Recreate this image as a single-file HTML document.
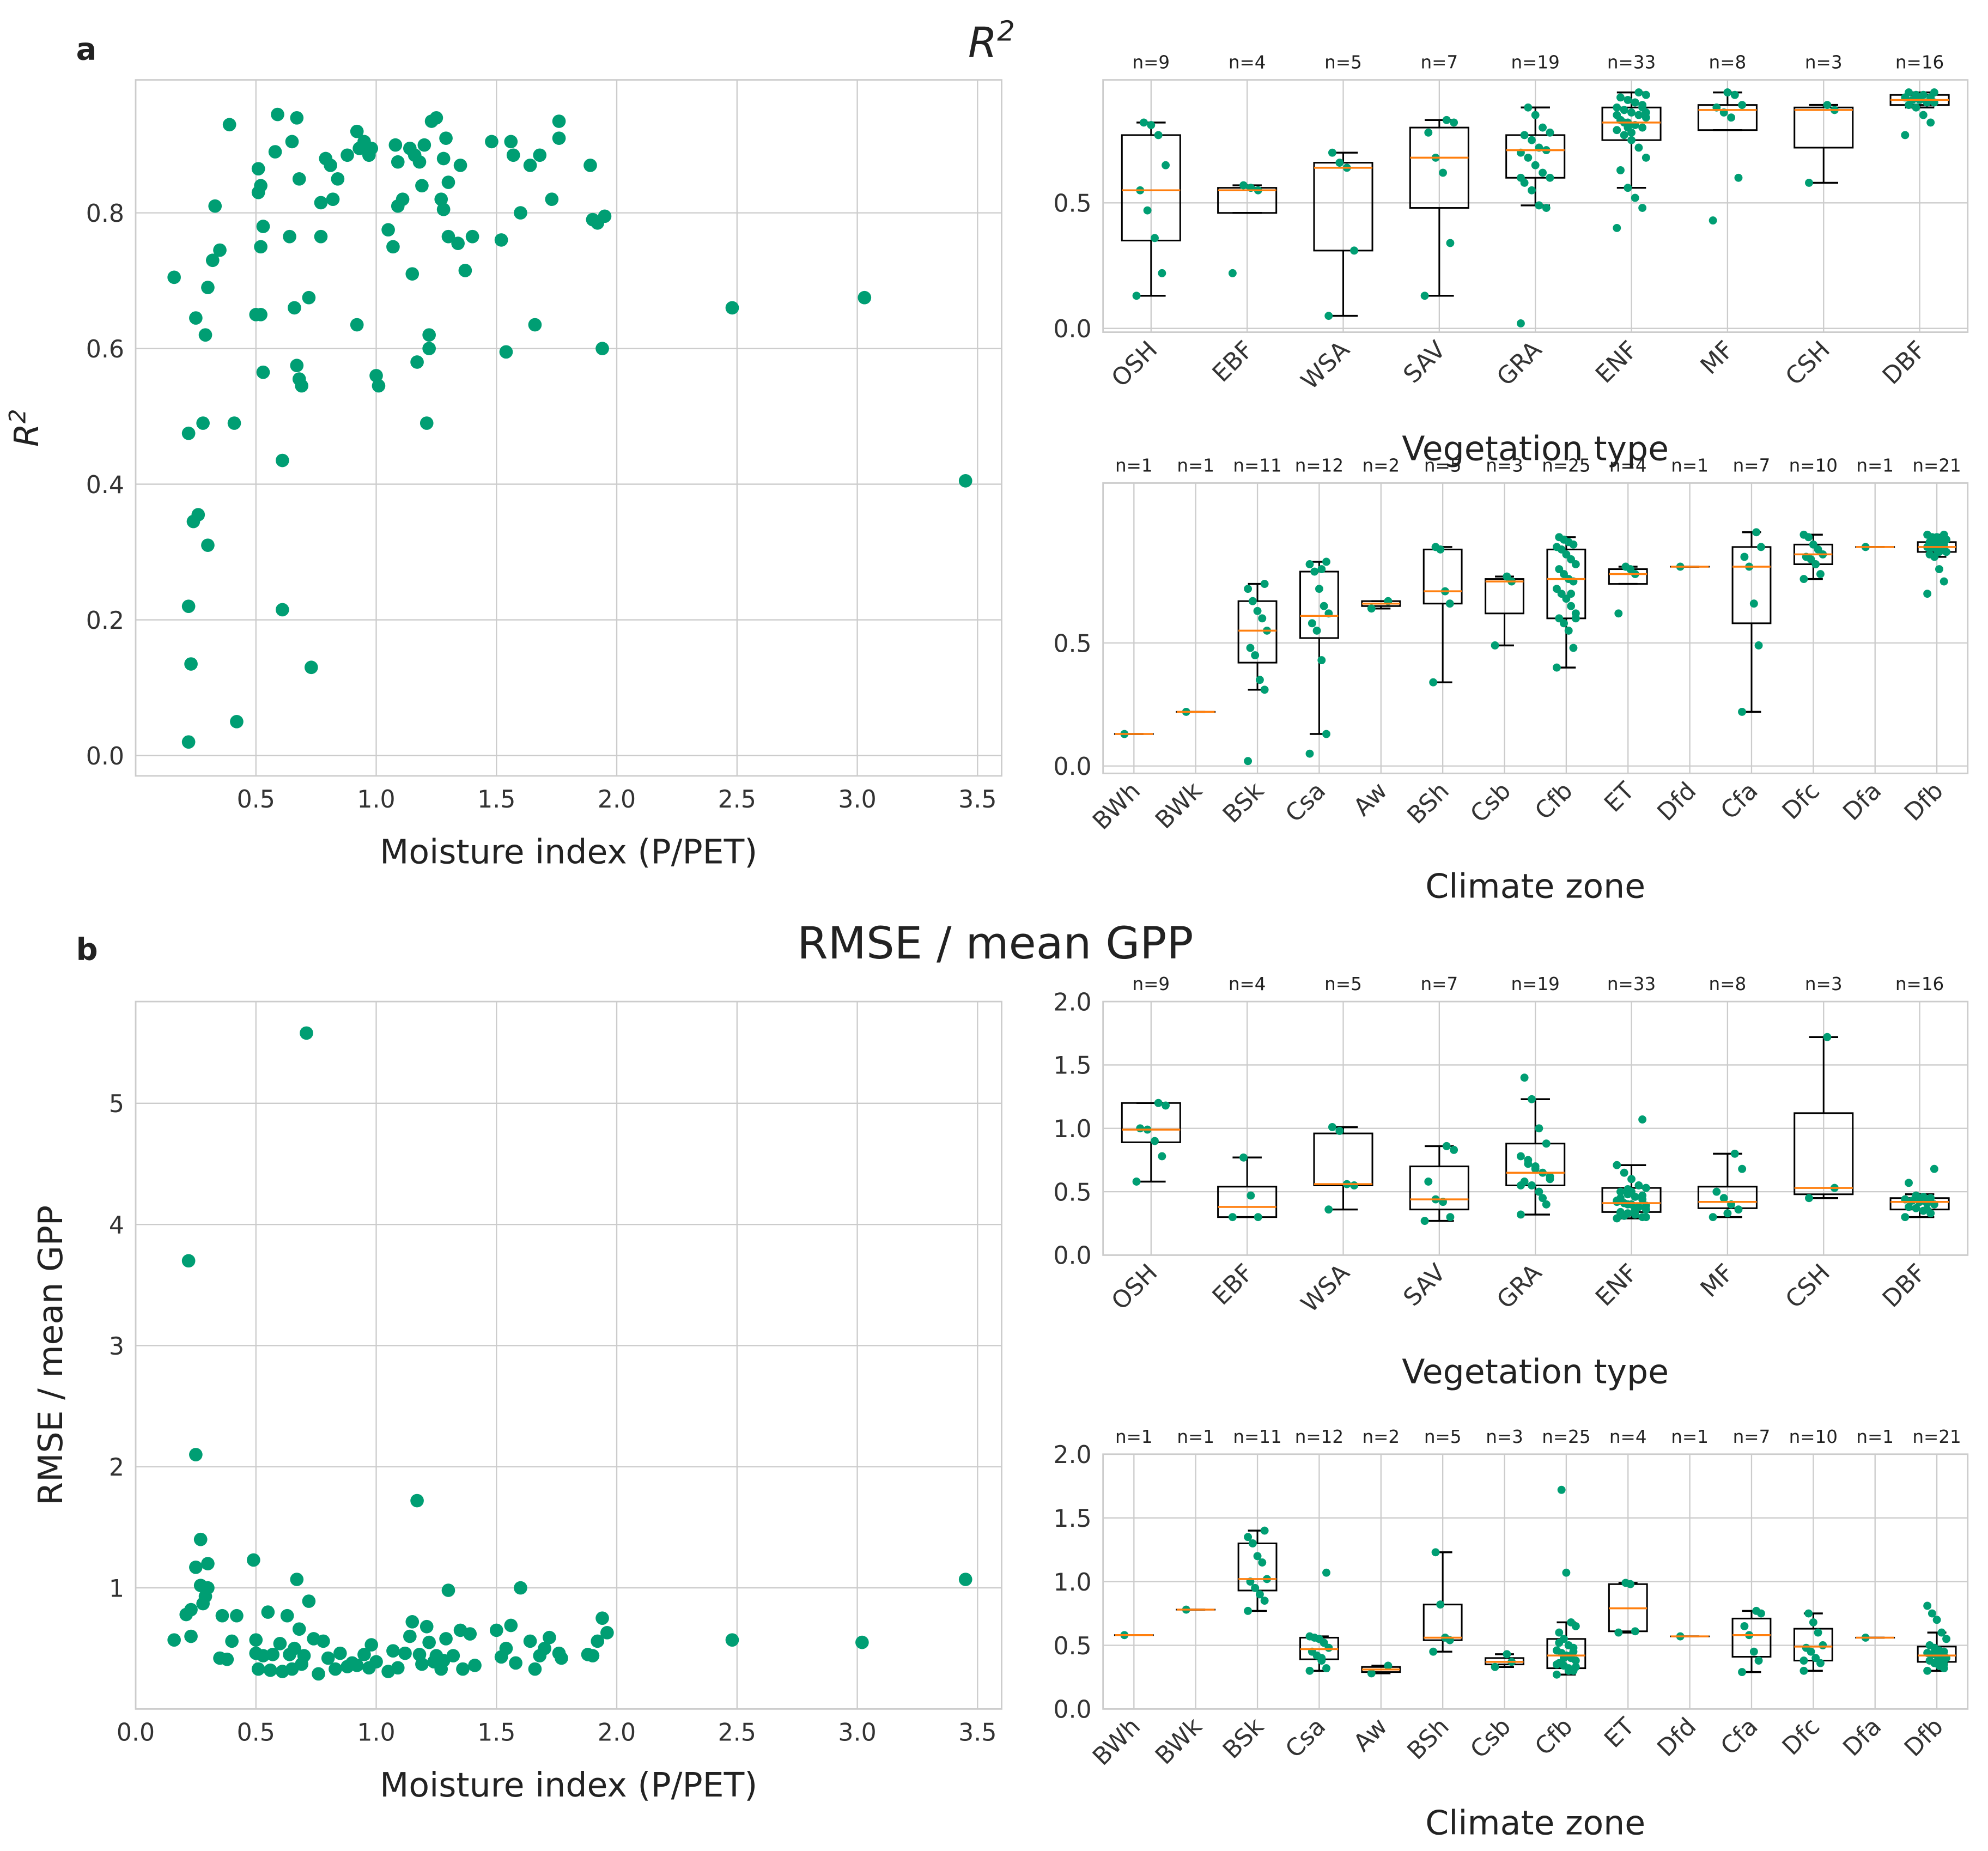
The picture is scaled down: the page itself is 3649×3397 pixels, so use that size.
<!DOCTYPE html>
<html><head><meta charset="utf-8">
<style>
html,body{margin:0;padding:0;background:#fff;}
svg{display:block;font-family:"DejaVu Sans","Liberation Sans",sans-serif;}
</style></head>
<body>
<svg id="fig" width="3649" height="3397" viewBox="0 0 1568 1460" preserveAspectRatio="none" xmlns="http://www.w3.org/2000/svg">
<rect x="0" y="0" width="1568" height="1460" fill="#fff"/>
<text x="60" y="47" font-size="24" font-weight="bold" fill="#222">a</text>
<text x="60" y="757" font-size="24" font-weight="bold" fill="#222">b</text>
<text x="782" y="45" font-size="33" font-style="italic" fill="#222" text-anchor="middle">R<tspan dy="-13" font-size="22">2</tspan></text>
<text x="785" y="756" font-size="35" fill="#222" text-anchor="middle">RMSE / mean GPP</text>
<g id="root"></g>
</svg>
<script>
// ---------- DATA ----------
const scatterR2X = [0.16,0.22,0.22,0.23,0.22,0.24,0.26,0.25,0.28,0.29,0.30,0.30,0.32,0.33,0.35,0.39,0.41,0.42,0.50,0.51,0.51,0.52,0.52,0.53,0.53,0.52,0.58,0.59,0.61,0.61,0.64,0.65,0.66,0.67,0.67,0.68,0.68,0.69,0.72,0.73,0.77,0.77,0.79,0.81,0.82,0.84,0.88,0.92,0.92,0.93,0.95,0.97,0.98,1.00,1.01,1.05,1.07,1.08,1.09,1.09,1.11,1.14,1.15,1.16,1.17,1.18,1.19,1.20,1.21,1.22,1.22,1.23,1.25,1.27,1.28,1.28,1.29,1.30,1.30,1.34,1.35,1.37,1.40,1.48,1.52,1.54,1.56,1.57,1.60,1.64,1.66,1.68,1.73,1.76,1.76,1.89,1.90,1.92,1.94,1.95,2.48,3.03,3.45];
const scatterR2Y = [0.705,0.475,0.22,0.135,0.02,0.345,0.355,0.645,0.49,0.62,0.31,0.69,0.73,0.81,0.745,0.93,0.49,0.05,0.65,0.865,0.83,0.84,0.75,0.78,0.565,0.65,0.89,0.945,0.435,0.215,0.765,0.905,0.66,0.94,0.575,0.555,0.85,0.545,0.675,0.13,0.765,0.815,0.88,0.87,0.82,0.85,0.885,0.635,0.92,0.895,0.905,0.885,0.895,0.56,0.545,0.775,0.75,0.9,0.81,0.875,0.82,0.895,0.71,0.885,0.58,0.875,0.84,0.9,0.49,0.6,0.62,0.935,0.94,0.82,0.88,0.805,0.91,0.765,0.845,0.755,0.87,0.715,0.765,0.905,0.76,0.595,0.905,0.885,0.80,0.87,0.635,0.885,0.82,0.935,0.91,0.87,0.79,0.785,0.60,0.795,0.66,0.675,0.405];
const scatterRmX = [0.16,0.21,0.22,0.23,0.23,0.25,0.25,0.27,0.27,0.28,0.29,0.30,0.30,0.35,0.36,0.38,0.40,0.42,0.49,0.50,0.50,0.51,0.53,0.55,0.56,0.57,0.60,0.61,0.63,0.64,0.65,0.66,0.67,0.68,0.69,0.70,0.71,0.72,0.74,0.76,0.78,0.80,0.83,0.85,0.88,0.90,0.92,0.95,0.97,0.98,1.00,1.05,1.07,1.09,1.12,1.14,1.15,1.17,1.18,1.19,1.21,1.22,1.24,1.25,1.27,1.28,1.29,1.30,1.32,1.35,1.36,1.39,1.41,1.50,1.52,1.54,1.56,1.58,1.60,1.64,1.66,1.68,1.70,1.72,1.76,1.77,1.88,1.90,1.92,1.94,1.96,2.48,3.02,3.45];
const scatterRmY = [0.57,0.78,3.7,0.82,0.6,2.1,1.17,1.4,1.02,0.87,0.93,1.2,1.0,0.42,0.77,0.41,0.56,0.77,1.23,0.57,0.46,0.33,0.44,0.8,0.32,0.45,0.54,0.31,0.77,0.45,0.33,0.5,1.07,0.66,0.37,0.44,5.58,0.89,0.58,0.29,0.56,0.42,0.33,0.46,0.35,0.38,0.36,0.45,0.34,0.53,0.39,0.31,0.48,0.34,0.46,0.6,0.72,1.72,0.45,0.37,0.68,0.55,0.39,0.44,0.33,0.4,0.58,0.98,0.44,0.65,0.33,0.62,0.36,0.65,0.43,0.5,0.69,0.38,1.0,0.56,0.33,0.44,0.5,0.59,0.46,0.42,0.45,0.44,0.56,0.75,0.63,0.57,0.55,1.07];

const vegCats = ["OSH","EBF","WSA","SAV","GRA","ENF","MF","CSH","DBF"];
const vegN = [9,4,5,7,19,33,8,3,16];
const climCats = ["BWh","BWk","BSk","Csa","Aw","BSh","Csb","Cfb","ET","Dfd","Cfa","Dfc","Dfa","Dfb"];
const climN = [1,1,11,12,2,5,3,25,4,1,7,10,1,21];

// box stats: [whiskerLow, q1, median, q3, whiskerHigh]
const vegR2Box = [[0.13,0.35,0.55,0.77,0.82],[0.46,0.46,0.55,0.56,0.57],[0.05,0.31,0.64,0.66,0.70],[0.13,0.48,0.68,0.80,0.83],[0.49,0.60,0.71,0.77,0.88],[0.56,0.75,0.82,0.88,0.94],[0.79,0.79,0.87,0.89,0.94],[0.58,0.72,0.87,0.88,0.89],[0.88,0.89,0.91,0.93,0.94]];
const vegR2Pts = [[0.13,0.22,0.36,0.47,0.55,0.65,0.77,0.81,0.82],[0.22,0.55,0.56,0.57],[0.05,0.31,0.64,0.66,0.70],[0.13,0.34,0.62,0.68,0.78,0.82,0.83],[0.02,0.48,0.49,0.55,0.58,0.60,0.62,0.65,0.68,0.70,0.71,0.72,0.75,0.77,0.78,0.80,0.85,0.88,0.60],[0.40,0.48,0.52,0.56,0.63,0.68,0.72,0.75,0.77,0.79,0.80,0.81,0.82,0.83,0.84,0.85,0.86,0.87,0.88,0.89,0.90,0.91,0.92,0.93,0.94,0.78,0.82,0.85,0.88,0.90,0.80,0.83,0.86],[0.43,0.60,0.84,0.86,0.88,0.89,0.93,0.94],[0.58,0.87,0.89],[0.77,0.82,0.85,0.88,0.89,0.90,0.90,0.91,0.91,0.92,0.92,0.93,0.93,0.94,0.94,0.90]];
const climR2Box = [[0.13,0.13,0.13,0.13,0.13],[0.22,0.22,0.22,0.22,0.22],[0.31,0.42,0.55,0.67,0.74],[0.13,0.52,0.61,0.79,0.83],[0.64,0.65,0.66,0.67,0.67],[0.34,0.66,0.71,0.88,0.89],[0.49,0.62,0.75,0.76,0.77],[0.40,0.60,0.76,0.88,0.93],[0.74,0.74,0.78,0.80,0.81],[0.81,0.81,0.81,0.81,0.81],[0.22,0.58,0.81,0.89,0.95],[0.76,0.82,0.86,0.90,0.94],[0.89,0.89,0.89,0.89,0.89],[0.85,0.87,0.89,0.91,0.94]];
const climR2Pts = [[0.13],[0.22],[0.02,0.31,0.35,0.45,0.48,0.55,0.60,0.63,0.67,0.72,0.74],[0.05,0.13,0.43,0.55,0.58,0.62,0.65,0.72,0.79,0.82,0.83,0.80],[0.64,0.67],[0.34,0.66,0.71,0.88,0.89],[0.49,0.75,0.77],[0.40,0.48,0.55,0.58,0.60,0.62,0.65,0.68,0.70,0.72,0.75,0.76,0.78,0.80,0.82,0.84,0.86,0.88,0.89,0.90,0.91,0.92,0.93,0.60,0.70],[0.62,0.78,0.80,0.81],[0.81],[0.22,0.49,0.66,0.81,0.85,0.89,0.95],[0.76,0.78,0.82,0.84,0.85,0.86,0.88,0.90,0.93,0.94],[0.89],[0.70,0.75,0.80,0.85,0.86,0.87,0.88,0.88,0.89,0.89,0.90,0.90,0.91,0.91,0.92,0.92,0.93,0.93,0.94,0.94,0.87]];
const vegRmBox = [[0.58,0.89,0.99,1.20,1.20],[0.30,0.30,0.38,0.54,0.77],[0.36,0.55,0.56,0.96,1.01],[0.27,0.36,0.44,0.70,0.86],[0.32,0.55,0.65,0.88,1.23],[0.29,0.34,0.41,0.53,0.71],[0.30,0.37,0.42,0.54,0.80],[0.45,0.48,0.53,1.12,1.72],[0.30,0.36,0.42,0.45,0.48]];
const vegRmPts = [[0.58,0.78,0.90,0.99,1.00,1.18,1.20],[0.30,0.30,0.47,0.77],[0.36,0.55,0.56,0.98,1.01],[0.27,0.30,0.42,0.44,0.58,0.83,0.86],[0.32,0.40,0.50,0.55,0.58,0.62,0.65,0.70,0.75,0.78,0.88,1.00,1.23,1.40,0.60,0.45,0.68,0.72,0.55],[0.29,0.30,0.32,0.33,0.34,0.36,0.38,0.40,0.41,0.42,0.44,0.46,0.48,0.50,0.53,0.55,0.60,0.65,0.71,1.07,0.35,0.40,0.45,0.30,0.38,0.50,0.31,0.43,0.47,0.36,0.52,0.33,0.39],[0.30,0.36,0.40,0.45,0.50,0.68,0.80,0.33],[0.45,0.53,1.72],[0.30,0.33,0.35,0.37,0.38,0.40,0.41,0.42,0.43,0.44,0.45,0.46,0.47,0.57,0.68,0.36]];
const climRmBox = [[0.58,0.58,0.58,0.58,0.58],[0.78,0.78,0.78,0.78,0.78],[0.77,0.93,1.02,1.30,1.40],[0.30,0.39,0.47,0.56,0.57],[0.28,0.29,0.31,0.33,0.34],[0.45,0.54,0.56,0.82,1.23],[0.33,0.35,0.37,0.40,0.43],[0.27,0.32,0.42,0.55,0.68],[0.60,0.61,0.79,0.98,0.99],[0.57,0.57,0.57,0.57,0.57],[0.29,0.41,0.58,0.71,0.77],[0.30,0.38,0.49,0.63,0.75],[0.56,0.56,0.56,0.56,0.56],[0.30,0.37,0.42,0.49,0.60]];
const climRmPts = [[0.58],[0.78],[0.77,0.85,0.90,0.95,1.00,1.02,1.15,1.20,1.30,1.35,1.40],[0.30,0.32,0.38,0.42,0.45,0.48,0.52,0.55,0.56,0.57,1.07,0.40],[0.28,0.34],[0.45,0.54,0.56,0.82,1.23],[0.33,0.37,0.43],[0.27,0.30,0.32,0.34,0.36,0.38,0.40,0.42,0.44,0.46,0.48,0.50,0.55,0.60,0.65,0.68,1.07,1.72,0.35,0.45,0.30,0.40,0.52,0.33,0.42],[0.60,0.61,0.98,0.99],[0.57],[0.29,0.38,0.45,0.58,0.65,0.75,0.77],[0.30,0.36,0.40,0.45,0.48,0.50,0.60,0.68,0.75,0.38],[0.56],[0.30,0.32,0.34,0.36,0.38,0.40,0.41,0.42,0.43,0.44,0.45,0.46,0.48,0.50,0.55,0.60,0.70,0.75,0.81,0.35,0.39]];

const xTicksTop = [0.5,1.0,1.5,2.0,2.5,3.0,3.5];
const xTicksBot = [0.0,0.5,1.0,1.5,2.0,2.5,3.0,3.5];
const yTicksR2 = [0.0,0.2,0.4,0.6,0.8];
const yTicksRm = [1,2,3,4,5];
const yTicksBoxR2 = [0.0,0.5];
const yTicksBoxRm = [0.0,0.5,1.0,1.5,2.0];

// ---------- DRAWING ----------
const NS = "http://www.w3.org/2000/svg";
const root = document.getElementById('root');
const GREEN = "#009e73", GRID = "#cccccc", TXT = "#333";
const TICK = 19, TITLE = 26.5;
function mk(tag, attrs, parent, text){
  const e = document.createElementNS(NS, tag);
  for (const k in attrs) e.setAttribute(k, attrs[k]);
  if (text !== undefined) e.textContent = text;
  (parent || root).appendChild(e);
  return e;
}
function fmt(v, d){ return v.toFixed(d); }

function frame(g, L, T, R, B){
  mk('rect',{x:L,y:T,width:R-L,height:B-T,fill:'none',stroke:GRID,'stroke-width':1.2},g);
}

function scatterPanel(name, L, T, R, B, xmin, xmax, ymin, ymax, xs, ys, xt, yt, yd, ylabelText, ylabelSup, ylOff){
  const g = mk('g',{});
  
  
  const sx = v => L + (v - xmin) / (xmax - xmin) * (R - L);
  const sy = v => B - (v - ymin) / (ymax - ymin) * (B - T);
  xt.forEach(v => {
    const l = mk('line',{x1:sx(v),x2:sx(v),y1:T,y2:B,stroke:GRID,'stroke-width':1},g);
     
    const t = mk('text',{x:sx(v),y:B+25,'font-size':TICK,fill:TXT,'text-anchor':'middle'},g,fmt(v,1));
     
  });
  yt.forEach(v => {
    const l = mk('line',{x1:L,x2:R,y1:sy(v),y2:sy(v),stroke:GRID,'stroke-width':1},g);
     
    const t = mk('text',{x:L-9,y:sy(v)+7,'font-size':TICK,fill:TXT,'text-anchor':'end'},g,fmt(v,yd));
     
  });
  frame(g, L, T, R, B);
  xs.forEach((x, i) => {
    const c = mk('circle',{cx:sx(x),cy:sy(ys[i]),r:5.3,fill:GREEN},g);
     
  });
  const xl = mk('text',{x:(L+R)/2,y:B+69,'font-size':TITLE,fill:'#222','text-anchor':'middle'},g,'Moisture index (P/PET)');
   
  const cy = (T+B)/2;
  const yl = mk('text',{x:0,y:0,'font-size':TITLE,fill:'#222','text-anchor':'middle',transform:`translate(${L-ylOff},${cy}) rotate(-90)`},g);
   
  if (ylabelSup) {
    yl.setAttribute('font-style','italic');
    mk('tspan',{},yl,ylabelText);
    mk('tspan',{dy:-10,'font-size':18},yl,ylabelSup);
  } else yl.textContent = ylabelText;
}

function boxPanel(name, L, T, R, B, ymin, ymax, cats, ns, box, pts, yt, bw, xlabel, showLabelY){
  const g = mk('g',{});
  
  
  const step = (R - L) / cats.length;
  const sx = i => L + step * (i + 0.5);
  const sy = v => B - (v - ymin) / (ymax - ymin) * (B - T);
  cats.forEach((c, i) => {
    const l = mk('line',{x1:sx(i),x2:sx(i),y1:T,y2:B,stroke:GRID,'stroke-width':1},g);
     
  });
  yt.forEach(v => {
    const l = mk('line',{x1:L,x2:R,y1:sy(v),y2:sy(v),stroke:GRID,'stroke-width':1},g);
     
    const t = mk('text',{x:L-9,y:sy(v)+7,'font-size':TICK,fill:TXT,'text-anchor':'end'},g,fmt(v,1));
     
  });
  frame(g, L, T, R, B);
  cats.forEach((c, i) => {
    const x = sx(i), s = box[i];
    const bg = mk('g',{},g);
    
    
    const cap = bw * 0.25;
    mk('line',{x1:x,x2:x,y1:sy(s[0]),y2:sy(s[1]),stroke:'#000','stroke-width':1.3},bg);
    mk('line',{x1:x,x2:x,y1:sy(s[3]),y2:sy(s[4]),stroke:'#000','stroke-width':1.3},bg);
    mk('line',{x1:x-cap,x2:x+cap,y1:sy(s[0]),y2:sy(s[0]),stroke:'#000','stroke-width':1.5},bg);
    mk('line',{x1:x-cap,x2:x+cap,y1:sy(s[4]),y2:sy(s[4]),stroke:'#000','stroke-width':1.5},bg);
    mk('rect',{x:x-bw/2,y:sy(s[3]),width:bw,height:Math.max(0.01,sy(s[1])-sy(s[3])),fill:'none',stroke:'#000','stroke-width':1.3},bg);
    pts[i].forEach((v, j) => {
      const off = ((j * 7) % 9 - 4) * bw / 16;
      const p = mk('circle',{cx:x+off,cy:sy(v),r:3.2,fill:GREEN},bg);
       
    });
    const m = mk('line',{x1:x-bw/2,x2:x+bw/2,y1:sy(s[2]),y2:sy(s[2]),stroke:'#ff7f0e','stroke-width':1.5},bg);
     
    const nt = mk('text',{x:x,y:T-9,'font-size':14,fill:'#222','text-anchor':'middle'},g,'n='+ns[i]);
     
    const tl = mk('text',{x:0,y:0,'font-size':TICK,fill:TXT,'text-anchor':'end',transform:`translate(${x+6},${B+15}) rotate(-45)`},g,c);
     
  });
  const xl = mk('text',{x:(L+R)/2,y:showLabelY,'font-size':TITLE,fill:'#222','text-anchor':'middle'},g,xlabel);
   
}

scatterPanel('scatter-r2', 107, 63, 790, 612, 0.0, 3.6, -0.03, 0.996, scatterR2X, scatterR2Y, xTicksTop, yTicksR2, 1, 'R', '2', 77);
scatterPanel('scatter-rmse', 107, 790, 790, 1348, 0.0, 3.6, 0.0, 5.84, scatterRmX, scatterRmY, xTicksBot, yTicksRm, 0, 'RMSE / mean GPP', null, 58);
boxPanel('box-veg-r2', 870, 63, 1552, 262, -0.015, 0.99, vegCats, vegN, vegR2Box, vegR2Pts, yTicksBoxR2, 46, 'Vegetation type', 363);
boxPanel('box-clim-r2', 870, 381, 1552, 610, -0.03, 1.15, climCats, climN, climR2Box, climR2Pts, yTicksBoxR2, 30, 'Climate zone', 708);
boxPanel('box-veg-rmse', 870, 790, 1552, 990, 0.0, 2.0, vegCats, vegN, vegRmBox, vegRmPts, yTicksBoxRm, 46, 'Vegetation type', 1091);
boxPanel('box-clim-rmse', 870, 1147, 1552, 1348, 0.0, 2.0, climCats, climN, climRmBox, climRmPts, yTicksBoxRm, 30, 'Climate zone', 1447);
</script>
</body></html>
